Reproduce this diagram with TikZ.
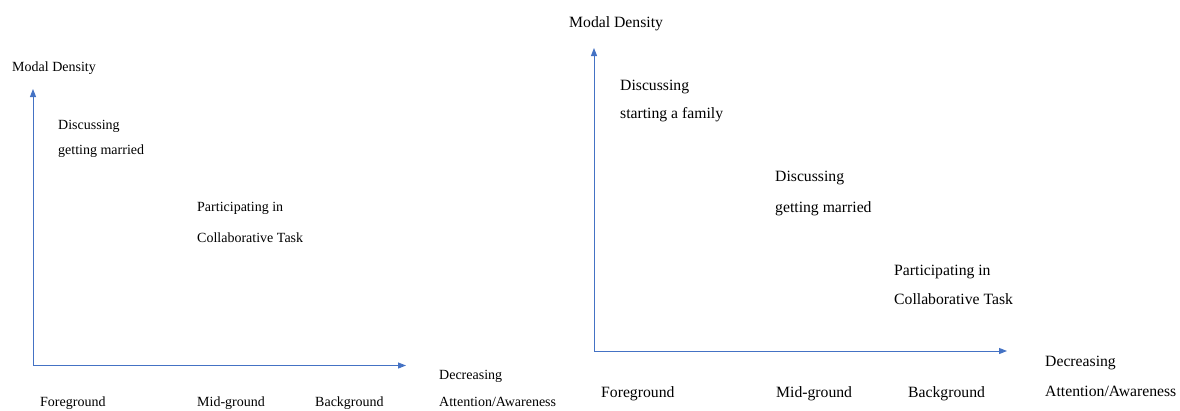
\documentclass[tikz,border=0pt]{standalone}
\usepackage{fontspec}
\setmainfont{Liberation Serif}
\usetikzlibrary{arrows.meta}
\definecolor{axisblue}{HTML}{4472C4}
\tikzset{
  axis/.style={draw=axisblue, line width=1pt, -{Triangle[length=8pt,width=6pt]}},
  lbl/.style={anchor=base west, inner sep=0pt, text=black},
  small/.style={lbl, font=\fontsize{14}{16}\selectfont},
  large/.style={lbl, font=\fontsize{15.7}{18}\selectfont},
}
\begin{document}
\begin{tikzpicture}[x=1pt,y=-1pt]
\useasboundingbox (0,0) rectangle (1180,410);

% ---- first chart ----
\coordinate (oA) at (33,365.5);
\coordinate (yA) at (33,89);
\coordinate (xA) at (406,365.5);
\draw[axis] (oA) -- (yA);
\draw[axis] (oA) -- (xA);
\node[small] (mdA) at (12,71) {Modal Density};
\node[small] (dA1) at (58,129) {Discussing};
\node[small] (dA2) at (58,154) {getting married};
\node[small] (pA1) at (197,211) {Participating in};
\node[small] (pA2) at (197,242) {Collaborative Task};
\node[small] (fgA) at (40,406) {Foreground};
\node[small] (mgA) at (197,406) {Mid-ground};
\node[small] (bgA) at (315,406) {Background};
\node[small] (decA) at (439,379) {Decreasing};
\node[small] (attA) at (439,406.5) {Attention/Awareness};

% ---- second chart ----
\coordinate (oB) at (594,351);
\coordinate (yB) at (594,48);
\coordinate (xB) at (1007,351);
\draw[axis] (oB) -- (yB);
\draw[axis] (oB) -- (xB);
\node[large] (mdB) at (569,27) {Modal Density};
\node[large] (sB1) at (620,90) {Discussing};
\node[large] (sB2) at (620,118.5) {starting a family};
\node[large] (dB1) at (775,181) {Discussing};
\node[large] (dB2) at (775,212) {getting married};
\node[large] (pB1) at (894,275) {Participating in};
\node[large] (pB2) at (894,304) {Collaborative Task};
\node[large] (fgB) at (601,397) {Foreground};
\node[large] (mgB) at (776,397) {Mid-ground};
\node[large] (bgB) at (908,397) {Background};
\node[large] (decB) at (1045,366.5) {Decreasing};
\node[large] (attB) at (1045,396.5) {Attention/Awareness};
\end{tikzpicture}
\end{document}
